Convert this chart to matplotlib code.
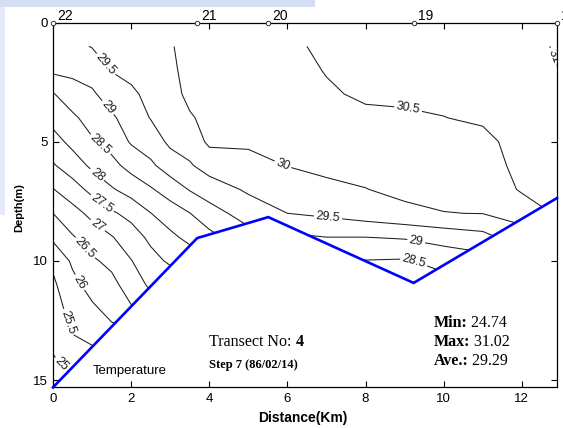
import numpy as np
import matplotlib
matplotlib.use("Agg")
import matplotlib.pyplot as plt
from matplotlib.patches import Polygon, Rectangle

SANS = ["Liberation Sans", "DejaVu Sans"]
SERIF = ["Liberation Serif", "DejaVu Serif"]
plt.rcParams["font.family"] = SANS

# Stations along the transect and the bottom depth under each one
station_names = ["22", "21", "20", "19", "18"]
station_km = [0.0, 3.69, 5.51, 9.23, 12.9]
bottom_depth = [15.3, 9.04, 8.16, 10.92, 7.36]

# Temperature section (deg C): one list per distance column, depths 1..16 m
grid_km = [0, 0.5, 1, 1.5, 2, 2.5, 3, 3.5, 4, 5, 6, 7, 8, 9, 10, 11, 12, 13]
grid_depth = [1, 2, 3, 4, 5, 6, 7, 8, 9, 10, 11, 12, 13, 14, 15, 16]
temp_0km = [29.3, 29.1, 28.47, 28.16, 27.82, 27.45, 26.98, 26.5, 26.1, 25.6, 25.41, 25.27, 25.13, 24.98, 24.78, 24.65]
temp_0p5km = [29.4, 29.12, 28.78, 28.41, 28.13, 27.76, 27.28, 26.82, 26.46, 26.08, 25.86, 25.69, 25.52, 25.24, 24.94, 24.75]
temp_1km = [29.52, 29.21, 28.93, 28.70, 28.44, 28.09, 27.64, 27.13, 26.74, 26.43, 26.18, 25.92, 25.66, 25.36, 25.0, 24.8]
temp_1p5km = [29.62, 29.52, 29.23, 28.92, 28.67, 28.36, 27.95, 27.43, 26.97, 26.62, 26.36, 26.15, 25.88, 25.5, 25.17, 24.85]
temp_2km = [29.72, 29.62, 29.42, 29.24, 29.05, 28.66, 28.2, 27.65, 27.27, 26.98, 26.73, 26.45, 26.0, 25.67, 25.33, 25.0]
temp_2p5km = [29.8, 29.72, 29.62, 29.52, 29.24, 28.91, 28.45, 27.99, 27.61, 27.33, 27.09, 26.73, 26.25, 25.81, 25.42, 25.0]
temp_3km = [29.95, 29.9, 29.82, 29.72, 29.6, 29.24, 28.72, 28.26, 27.89, 27.58, 27.14, 26.65, 26.15, 25.71, 25.31, 24.92]
temp_3p5km = [30.2, 30.16, 30.12, 29.95, 29.71, 29.45, 29.03, 28.49, 28.14, 27.7, 27.17, 26.61, 26.06, 25.59, 25.17, 24.92]
temp_4km = [30.22, 30.19, 30.16, 30.13, 30.09, 29.7, 29.25, 28.79, 28.36, 27.88, 27.25, 26.8, 26.3, 25.85, 25.4, 25.0]
temp_5km = [30.3, 30.25, 30.2, 30.14, 30.07, 29.85, 29.57, 29.23, 28.8, 28.05, 27.6, 27.15, 26.7, 26.25, 25.8, 25.4]
temp_6km = [30.42, 30.36, 30.3, 30.22, 30.13, 30.01, 29.75, 29.5, 28.9, 28.3, 27.8, 27.3, 26.8, 26.3, 25.8, 25.3]
temp_7km = [30.58, 30.52, 30.45, 30.29, 30.18, 30.08, 29.92, 29.6, 29.0, 28.3, 27.8, 27.3, 26.8, 26.3, 25.8, 25.3]
temp_8km = [30.7, 30.62, 30.56, 30.42, 30.27, 30.13, 29.99, 29.75, 29.0, 28.48, 28.0, 27.5, 27.0, 26.5, 26.0, 25.5]
temp_9km = [30.75, 30.68, 30.58, 30.44, 30.31, 30.19, 30.1, 29.9, 29.05, 28.45, 28.2, 27.9, 27.5, 27.0, 26.5, 26.0]
temp_10km = [30.78, 30.72, 30.62, 30.49, 30.36, 30.24, 30.12, 29.99, 29.2, 28.67, 28.3, 27.9, 27.5, 27.0, 26.5, 26.0]
temp_11km = [30.82, 30.76, 30.68, 30.58, 30.35, 30.25, 30.12, 30.01, 29.34, 28.8, 28.4, 28.0, 27.5, 27.0, 26.5, 26.0]
temp_12km = [30.95, 30.9, 30.84, 30.78, 30.72, 30.66, 30.56, 30.18, 29.8, 29.3, 28.8, 28.3, 27.8, 27.3, 26.8, 26.3]
temp_13km = [31.02, 31.005, 30.98, 30.93, 30.86, 30.78, 30.7, 30.6, 30.2, 29.8, 29.3, 28.8, 28.3, 27.8, 27.3, 26.8]

levels = [25.0, 25.5, 26.0, 26.5, 27.0, 27.5, 28.0, 28.5, 29.0, 29.5, 30.0, 30.5, 31.0]

transect_no = "4"
step_text = "Step 7 (86/02/14)"
t_min, t_max, t_ave = 24.74, 31.02, 29.29

columns = [temp_0km, temp_0p5km, temp_1km, temp_1p5km, temp_2km, temp_2p5km,
           temp_3km, temp_3p5km, temp_4km, temp_5km, temp_6km, temp_7km,
           temp_8km, temp_9km, temp_10km, temp_11km, temp_12km, temp_13km]
temp = np.array(columns).T  # rows = depth, cols = distance

W, H = 563, 428
fig = plt.figure(figsize=(W / 100, H / 100), dpi=100)
fig.patch.set_facecolor("white")

# pale header strip along the top edge of the page
fig.patches.append(Rectangle((0, 1 - 7 / H), 315 / W, 7 / H, transform=fig.transFigure,
                             facecolor="#d3ddf4", edgecolor="none", zorder=0))
fig.patches.append(Rectangle((0, 1 - 215 / H), 5 / W, 208 / H, transform=fig.transFigure,
                             facecolor="#e4eaf8", edgecolor="none", zorder=0))

ax_l, ax_r, ax_t, ax_b = 53, 557, 22.5, 387.4
ax = fig.add_axes([ax_l / W, 1 - ax_b / H, (ax_r - ax_l) / W, (ax_b - ax_t) / H])
ax.set_xlim(0, station_km[-1])
ax.set_ylim(bottom_depth[0], 0)

cs = ax.contour(grid_km, grid_depth, temp, levels=levels, colors="#1e1e1e", linewidths=0.75)

label_spots = [(1.28, 1.85), (1.33, 3.67), (1.13, 5.26), (1.08, 6.48), (1.26, 7.57),
               (1.15, 8.49), (0.82, 9.45), (0.79, 10.8), (0.33, 12.6), (0.36, 14.1),
               (5.9, 5.89), (9.1, 3.54), (12.69, 1.49), (7.03, 8.36), (9.31, 9.04),
               (9.23, 10.04)]
ax.clabel(cs, inline=True, fmt="%g", fontsize=9, manual=label_spots, inline_spacing=2)

# keep the isotherms inside the water column
water = [(station_km[0], -1)] + list(zip(station_km, bottom_depth)) + [(station_km[-1], -1)]
water_patch = Polygon(water, closed=True, transform=ax.transData)
cs.set_clip_path(water_patch)

# sea bottom
ax.plot(station_km, bottom_depth, color="#0000ff", lw=1.9, clip_on=False, zorder=4,
        solid_joinstyle="miter")

# station markers and names on the top axis
for name, xs in zip(station_names, station_km):
    ax.plot([xs], [0], marker="o", ms=3.2, mfc="white", mec="#333333", mew=0.7,
            clip_on=False, zorder=5)
    ax.annotate(name, xy=(xs, 0), xytext=(3, 1.5), textcoords="offset points",
                ha="left", va="baseline", fontsize=10, annotation_clip=False)

ax.set_xticks([0, 2, 4, 6, 8, 10, 12])
ax.set_yticks([0, 5, 10, 15])
ax.tick_params(direction="in", top=True, right=True, length=4, width=0.8,
               labelsize=9.5, pad=4)
for sp in ax.spines.values():
    sp.set_linewidth(0.9)

ax.set_xlabel("Distance(Km)", fontsize=10, fontweight="bold")
ax.xaxis.set_label_coords(0.495, -0.066)
ax.set_ylabel("Depth(m)", fontsize=8, fontweight="bold")
ax.yaxis.set_label_coords(-0.0575, 0.492)

ax.text(1.03, 14.6, "Temperature", fontsize=9.5, ha="left", va="center")


def mixed_text(x, y, parts, size):
    first, weight = parts[0]
    t = ax.text(x, y, first, fontsize=size, fontweight=weight, family=SERIF,
                ha="left", va="center")
    for s, w in parts[1:]:
        t = ax.annotate(s, xy=(1, 0), xycoords=t, fontsize=size, fontweight=w,
                        family=SERIF, ha="left", va="bottom")
    return t


mixed_text(4.0, 13.4, [("Transect No: ", "normal"), (transect_no, "bold")], 11.5)
ax.text(4.0, 14.36, step_text, fontsize=9, fontweight="bold", family=SERIF,
        ha="left", va="center")
mixed_text(9.74, 12.6, [("Min:", "bold"), (f" {t_min:.2f}", "normal")], 11.5)
mixed_text(9.74, 13.4, [("Max:", "bold"), (f" {t_max:.2f}", "normal")], 11.5)
mixed_text(9.74, 14.19, [("Ave.:", "bold"), (f" {t_ave:.2f}", "normal")], 11.5)

fig.savefig("out.png", dpi=100, facecolor=fig.get_facecolor())
